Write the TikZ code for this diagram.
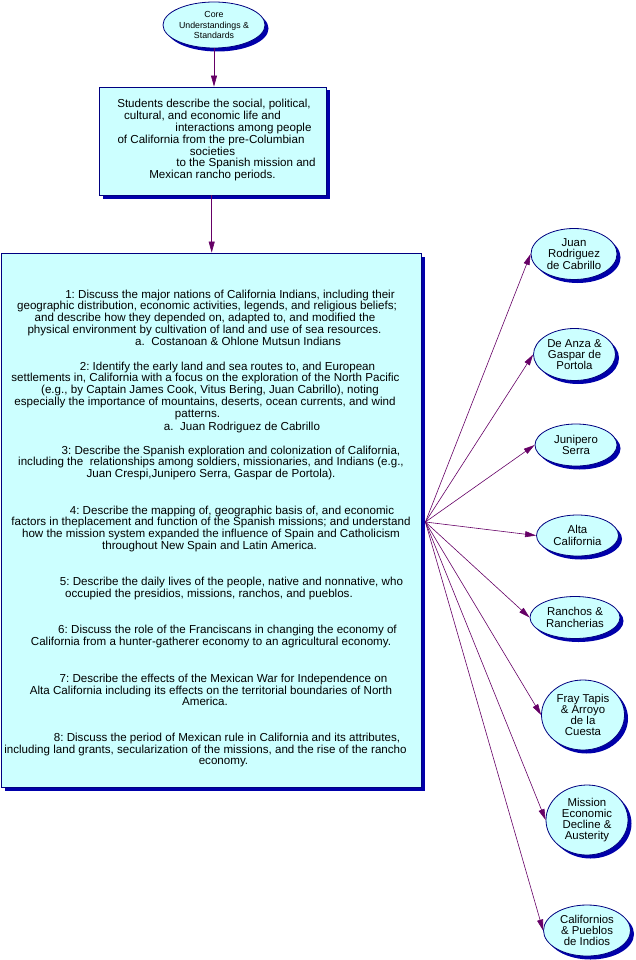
\documentclass[tikz,border=0pt]{standalone}
\usepackage{fontspec}
\setmainfont{Liberation Sans}
\usetikzlibrary{shapes.geometric,shadows,arrows.meta}
\definecolor{boxfill}{RGB}{204,255,255}
\definecolor{navyline}{RGB}{0,0,128}
\definecolor{shblue}{RGB}{0,0,170}
\definecolor{purp}{RGB}{102,0,102}
\newcommand\mypad[1]{\hbox to #1pt{}}
\newcommand\firststrut{\rule{0pt}{9pt}}
\newcommand\bodyfont{\fontsize{11.6}{11.7}\selectfont\frenchspacing}
\newcommand\boxfont{\fontsize{11.6}{11.9}\selectfont\frenchspacing}
\newcommand\ellfont{\fontsize{11.4}{11.2}\selectfont}
\newcommand\corefont{\fontsize{8.8}{10.8}\selectfont}
\begin{document}
\begin{tikzpicture}[x=1pt,y=-1pt,
  shbox/.style={draw=navyline, line width=0.8pt, fill=boxfill,
    drop shadow={shadow xshift=3.5pt,shadow yshift=-3.5pt,fill=shblue,opacity=1}},
  ell/.style={shbox, ellipse, inner sep=0pt, align=center, font=\ellfont},
  para/.style={anchor=north, inner sep=0pt, align=center, font=\bodyfont},
  conn/.style={draw=purp, line width=0.6pt, -{Triangle[length=11pt,width=6pt,fill=purp]}}]
\useasboundingbox (0,0) rectangle (635,960);
\fill[white] (0,0) rectangle (635,960);

% top ellipse
\node[shbox, ellipse, minimum width=102pt, minimum height=46pt, inner sep=0pt,
      align=center, font=\corefont] (core) at (214,25)
      {Core\\Understandings \&\\Standards};

% first box
\node[shbox, minimum width=227pt, minimum height=108pt, inner sep=0pt] (box1) at (212.5,141) {};
\node[para, font=\boxfont] (box1text) at (212.5,98.3)
  {\mypad{3}\firststrut Students describe the social, political,\\
   cultural, and economic life and\mypad{20}\\
   \mypad{62}interactions among people\\
   of California from the pre-Columbian\mypad{3}\\
   societies\\
   \mypad{67}to the Spanish mission and\\
   Mexican rancho periods.};

% big box
\node[shbox, minimum width=420pt, minimum height=534pt, inner sep=0pt] (bigbox) at (211,520) {};

\node[para] (p1) at (211,289)
  {\mypad{38}\firststrut 1: Discuss the major nations of California Indians, including their\\
   geographic distribution, economic activities, legends, and religious beliefs;\mypad{8}\\
   and describe how they depended on, adapted to, and modified the\mypad{12}\\
   physical environment by cultivation of land and use of sea resources.\mypad{13}\\
   \mypad{54}a.~ Costanoan \& Ohlone Mutsun Indians};

\node[para] (p2) at (211,361)
  {\mypad{33}\firststrut 2: Identify the early land and sea routes to, and European\\
   settlements in, California with a focus on the exploration of the North Pacific\mypad{11}\\
   (e.g., by Captain James Cook, Vitus Bering, Juan Cabrillo), noting\mypad{2}\\
   especially the importance of mountains, deserts, ocean currents, and wind\mypad{12}\\
   patterns.\mypad{27}\\[1.8pt]
   \mypad{62}a.~ Juan Rodriguez de Cabrillo};

\node[para] (p3) at (211,445)
  {\mypad{40}\firststrut 3: Describe the Spanish exploration and colonization of California,\\
   including the~ relationships among soldiers, missionaries, and Indians (e.g.,\\
   Juan Crespi,Junipero Serra, Gaspar de Portola).};

\node[para] (p4) at (211,505)
  {\mypad{42}\firststrut 4: Describe the mapping of, geographic basis of, and economic\\
   factors in theplacement and function of the Spanish missions; and understand\\
   how the mission system expanded the influence of Spain and Catholicism\\
   throughout New Spain and Latin America.\mypad{3}};

\node[para] (p5) at (211,576.7)
  {\mypad{41}\firststrut 5: Describe the daily lives of the people, native and nonnative, who\\
   occupied the presidios, missions, ranchos, and pueblos.\mypad{4}};

\node[para] (p6) at (211,624.3)
  {\mypad{33}\firststrut 6: Discuss the role of the Franciscans in changing the economy of\\
   California from a hunter-gatherer economy to an agricultural economy.};

\node[para] (p7) at (211,673.3)
  {\mypad{25}\firststrut 7: Describe the effects of the Mexican War for Independence on\\
   Alta California including its effects on the territorial boundaries of North\\
   America.\mypad{12}};

\node[para] (p8) at (211,732.3)
  {\mypad{32}\firststrut 8: Discuss the period of Mexican rule in California and its attributes,\\
   including land grants, secularization of the missions, and the rise of the rancho\mypad{11}\\
   \mypad{25}economy.};

% right ellipses
\node[ell, minimum width=86pt, minimum height=51pt] (e1) at (574,254) {Juan\\Rodriguez\\de Cabrillo};
\node[ell, minimum width=82pt, minimum height=52pt] (e2) at (574.5,354.5) {De Anza \&\\Gaspar de\\Portola};
\node[ell, minimum width=82pt, minimum height=42pt] (e3) at (576,445) {Junipero\\Serra};
\node[ell, minimum width=82pt, minimum height=41pt] (e4) at (577.5,535.5) {Alta\\California};
\node[ell, minimum width=90pt, minimum height=42pt] (e5) at (575,617.5) {Ranchos \&\\Rancherias};
\node[ell, minimum width=83pt, minimum height=70pt] (e6) at (583,715) {Fray Tapis\\\& Arroyo\\de la\\Cuesta};
\node[ell, minimum width=82pt, minimum height=70pt] (e7) at (587,820) {Mission\\Economic\\Decline \&\\Austerity};
\node[ell, minimum width=87pt, minimum height=51pt] (e8) at (587,930.5) {Californios\\\& Pueblos\\de Indios};

% connectors
\draw[conn] (core.south) -- (core.south |- box1.north);
\draw[conn] ([xshift=-0.8pt]box1.south) -- ([xshift=-0.8pt]box1.south |- bigbox.north);
\coordinate (hub) at ([xshift=4pt,yshift=-2pt]bigbox.east);
\foreach \e in {e1,e2,e3,e4,e5,e6,e7,e8}
  \draw[conn] (hub) -- (\e.west);
\end{tikzpicture}
\end{document}
